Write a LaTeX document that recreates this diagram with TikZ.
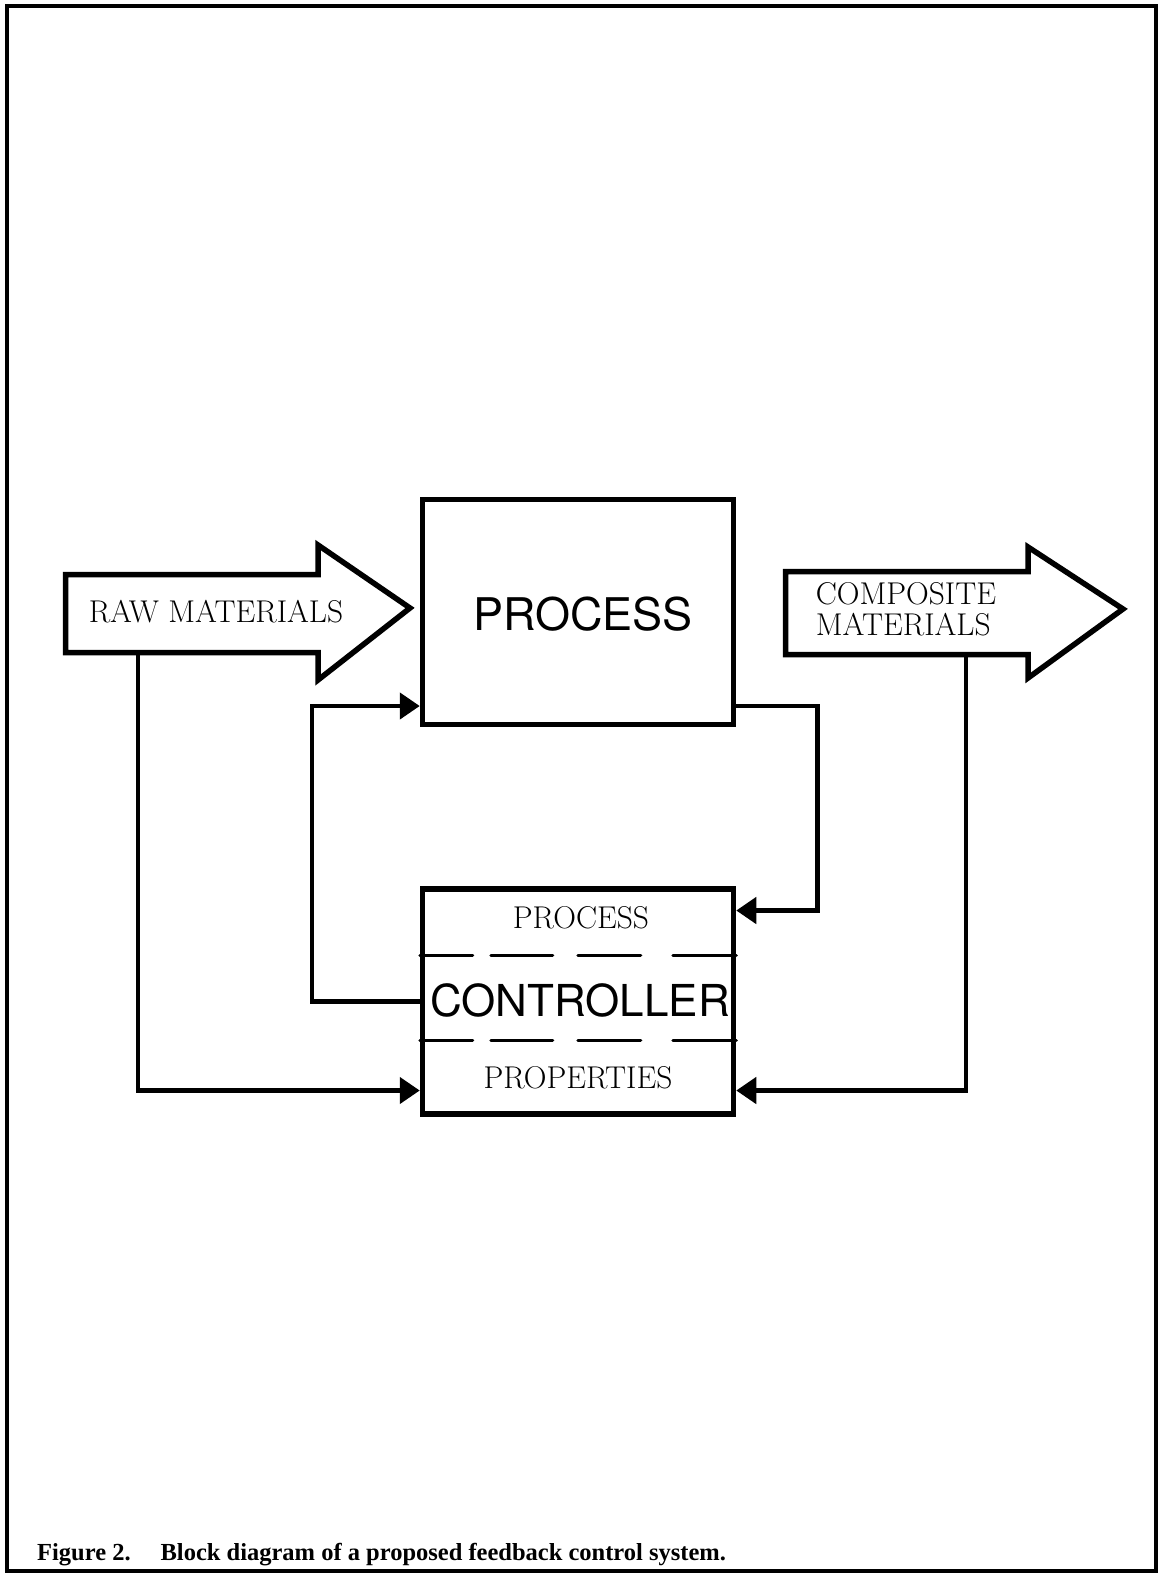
\documentclass[tikz,border=0pt]{standalone}
\usepackage{fontspec}
\usetikzlibrary{arrows.meta}
\usetikzlibrary{positioning}
\newfontfamily\blockfont{TeX Gyre Heros}
\newfontfamily\captionfont{Liberation Serif}

\begin{document}
\begin{tikzpicture}[x=1pt, y=-1pt,
  block/.style={draw, line width=5.5pt, minimum width=311pt, minimum height=225pt, inner sep=0pt},
  lbl/.style={font=\fontsize{31.5}{34}\selectfont, inner sep=0pt},
  big/.style={font=\blockfont\fontsize{45}{48}\selectfont, inner sep=0pt},
  feed/.style={line width=4.5pt, -{Triangle[length=20pt, width=26pt]}},
  fat/.style={line width=5.5pt, line join=miter},
  split/.style={line width=3pt, line cap=round, dash pattern=on 53pt off 18pt on 62pt off 25pt on 63pt off 32pt on 70pt}]
  \useasboundingbox (0,0) rectangle (1163,1575);
  \draw[line width=3.5pt] (7,6) rectangle (1156,1571);

  % blocks
  \node[block] (proc) at (578,612) {};
  \node[big] (proctext) at ([xshift=5pt,yshift=-2pt]proc.center) {PROCESS};
  \node[block, below=159pt of proc] (ctrl) {};
  \node[lbl] (ctrltop) at ([xshift=3pt,yshift=84pt]ctrl.center) {PROCESS};
  \node[big, font=\blockfont\fontsize{44}{48}\selectfont] (ctrlmid) at ([xshift=2pt,yshift=1pt]ctrl.center) {CONTROLLER};
  \node[lbl] (ctrlbot) at ([yshift=-76pt]ctrl.center) {PROPERTIES};
  \draw[split] ([yshift=46pt]ctrl.west) -- ([yshift=46pt]ctrl.east);
  \draw[split] ([yshift=-39pt]ctrl.west) -- ([yshift=-39pt]ctrl.east);

  % big arrows in and out
  \draw[fat] (65.5,574.5) -- (318,574.5) -- (318,545) -- (410,608) -- (318,680) -- (318,652.5) -- (65.5,652.5) -- cycle;
  \node[lbl] (raw) at (216,612) {RAW MATERIALS};
  \coordinate (rawfoot) at (138,655);
  \draw[fat] (785.5,571.5) -- (1028,571.5) -- (1028,547) -- (1123,609) -- (1028,678) -- (1028,654.5) -- (785.5,654.5) -- cycle;
  \node[lbl, align=left, font=\fontsize{31.5}{31}\selectfont] (comp) at (906,609) {COMPOSITE\\MATERIALS};
  \coordinate (compfoot) at (966,657);

  % feedback lines
  \draw[feed] (ctrl.west) -- ++(-108,0) |- ([yshift=-94pt]proc.west);
  \draw[feed] ([yshift=-94pt]proc.east) -- ++(81,0) |- ([yshift=91pt]ctrl.east);
  \draw[feed] (rawfoot) |- ([yshift=-89pt]ctrl.west);
  \draw[feed] (compfoot) |- ([yshift=-89pt]ctrl.east);

  \node[anchor=base west, inner sep=0pt, font=\captionfont\bfseries\fontsize{24.5}{28}\selectfont] (caption) at (37,1560) {Figure 2.\hspace{30pt}Block diagram of a proposed feedback control system.};
\end{tikzpicture}
\end{document}
